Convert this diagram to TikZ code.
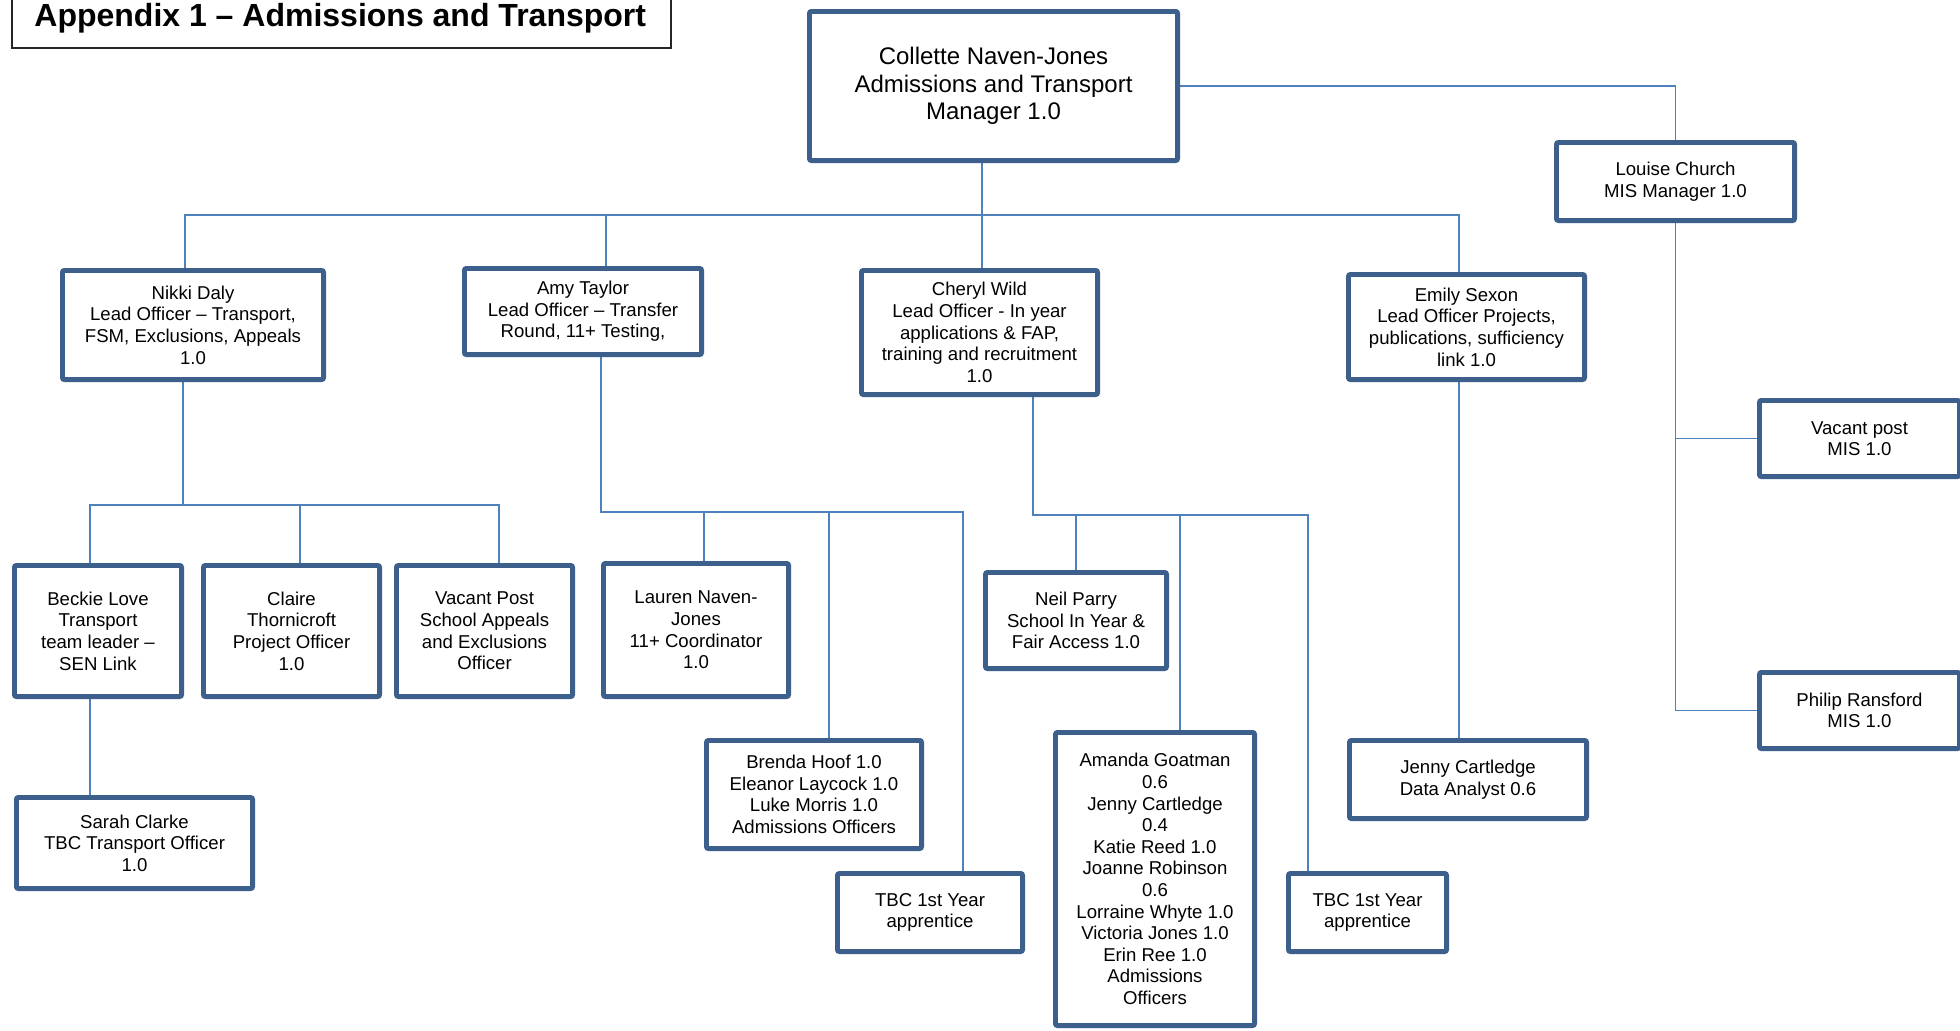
\documentclass[tikz,border=0pt]{standalone}
\usepackage{fontspec}
\setmainfont{Liberation Sans}
\usetikzlibrary{backgrounds}
\definecolor{boxblue}{RGB}{60,95,140}
\definecolor{linkblue}{RGB}{79,129,189}
\tikzset{
  orgbox/.style={draw=boxblue, line width=2.4pt, rounded corners=1pt, fill=white,
    align=center, inner sep=0pt, font=\fontsize{9.3}{10.8}\selectfont},
  bigbox/.style={orgbox, font=\fontsize{12}{13.8}\selectfont},
  conn/.style={draw=linkblue, line width=0.8pt},
  titlebox/.style={draw=black!85, line width=0.8pt}
}
\newcommand\orgnode[7]{\node[#7, minimum width={(#4-#2)*0.5pt-2.4pt}, minimum height={(#5-#3)*0.5pt-2.4pt}] (#1) at ({(#2+#4)/2},{(#3+#5)/2}) {#6};}
\begin{document}
\begin{tikzpicture}[x=0.5pt,y=-0.5pt]
\useasboundingbox (0,0) rectangle (1960,1030);
% title
\draw[titlebox] (12,-6) rectangle (671,48);
\node[anchor=west, inner sep=0pt, font=\fontsize{16}{18}\selectfont\bfseries] (title) at (34,18) {Appendix 1 – Admissions and Transport};
% boxes
\orgnode{main}{807}{9}{1180}{163}{Collette Naven-Jones\\Admissions and Transport\\Manager 1.0}{bigbox}
\orgnode{louise}{1554}{140}{1797}{223}{Louise Church\\MIS Manager 1.0}{orgbox}
\orgnode{nikki}{60}{268}{326}{382}{Nikki Daly\\Lead Officer – Transport,\\FSM, Exclusions, Appeals\\1.0}{orgbox}
\orgnode{amy}{462}{266}{704}{357}{Amy Taylor\\Lead Officer – Transfer\\Round, 11+ Testing,}{orgbox}
\orgnode{cheryl}{859}{268}{1100}{397}{Cheryl Wild\\Lead Officer - In year\\applications \& FAP,\\training and recruitment\\1.0}{orgbox}
\orgnode{emily}{1346}{272}{1587}{382}{Emily Sexon\\Lead Officer Projects,\\publications, sufficiency\\link 1.0}{orgbox}
\orgnode{mis}{1757}{398}{1962}{479}{Vacant post\\MIS 1.0}{orgbox}
\orgnode{philip}{1757}{670}{1962}{751}{Philip Ransford\\MIS 1.0}{orgbox}
\orgnode{beckie}{12}{563}{184}{699}{Beckie Love\\Transport\\team leader –\\SEN Link}{orgbox}
\orgnode{claire}{201}{563}{382}{699}{Claire\\Thornicroft\\Project Officer\\1.0}{orgbox}
\orgnode{vacant}{394}{563}{575}{699}{Vacant Post\\School Appeals\\and Exclusions\\Officer}{orgbox}
\orgnode{sarah}{14}{795}{255}{891}{Sarah Clarke\\TBC Transport Officer\\1.0}{orgbox}
\orgnode{lauren}{601}{561}{791}{699}{Lauren Naven-\\Jones\\11+ Coordinator\\1.0}{orgbox}
\orgnode{brenda}{704}{738}{924}{851}{Brenda Hoof 1.0\\Eleanor Laycock 1.0\\Luke Morris 1.0\\Admissions Officers}{orgbox}
\orgnode{tbca}{835}{871}{1025}{954}{TBC 1st Year\\apprentice}{orgbox}
\orgnode{neil}{983}{570}{1169}{671}{Neil Parry\\School In Year \&\\Fair Access 1.0}{orgbox}
\orgnode{amanda}{1053}{730}{1257}{1028}{Amanda Goatman\\0.6\\Jenny Cartledge\\0.4\\Katie Reed 1.0\\Joanne Robinson\\0.6\\Lorraine Whyte 1.0\\Victoria Jones 1.0\\Erin Ree 1.0\\Admissions\\Officers}{orgbox}
\orgnode{tbcb}{1286}{871}{1449}{954}{TBC 1st Year\\apprentice}{orgbox}
\orgnode{jenny}{1347}{738}{1589}{821}{Jenny Cartledge\\Data Analyst 0.6}{orgbox}
% junction coordinates
\coordinate (c2a) at (185,215);
\coordinate (c2b) at (606,215);
\coordinate (c2c) at (982,215);
\coordinate (c2d) at (1459,215);
\coordinate (c3n) at (183,505);
\coordinate (c3a) at (90,505);
\coordinate (c3b) at (300,505);
\coordinate (c3c) at (499,505);
\coordinate (c4a) at (601,512);
\coordinate (c4b) at (704,512);
\coordinate (c4c) at (829,512);
\coordinate (c4d) at (963,512);
\coordinate (c5a) at (1033,515);
\coordinate (c5b) at (1076,515);
\coordinate (c5c) at (1180,515);
\coordinate (c5d) at (1308,515);
\begin{scope}[on background layer]
\fill[white] (0,0) rectangle (1960,1030);
% manager to MIS manager
\draw[conn] (main.east) -| (louise.north);
% manager to lead officers
\draw[conn] (main.south -| c2c) -- (cheryl.north -| c2c);
\draw[conn] (nikki.north -| c2a) -- (c2a) -- (c2d) -- (emily.north -| c2d);
\draw[conn] (c2b) -- (amy.north -| c2b);
% MIS team
\draw[conn] (louise.south) -- (louise.south |- philip.west) -- (philip.west);
\draw[conn] (louise.south |- mis.west) -- (mis.west);
% Nikki's team
\draw[conn] (nikki.south -| c3n) -- (c3n);
\draw[conn] (beckie.north -| c3a) -- (c3a) -- (c3c) -- (vacant.north -| c3c);
\draw[conn] (c3b) -- (claire.north -| c3b);
\draw[conn] (beckie.south -| c3a) -- (sarah.north -| c3a);
% Amy's team
\draw[conn] (amy.south -| c4a) -- (c4a) -- (c4d) -- (tbca.north -| c4d);
\draw[conn] (c4b) -- (lauren.north -| c4b);
\draw[conn] (c4c) -- (brenda.north -| c4c);
% Cheryl's team
\draw[conn] (cheryl.south -| c5a) -- (c5a) -- (c5d) -- (tbcb.north -| c5d);
\draw[conn] (c5b) -- (neil.north -| c5b);
\draw[conn] (c5c) -- (amanda.north -| c5c);
% Emily's team
\draw[conn] (emily.south -| c2d) -- (jenny.north -| c2d);
\end{scope}
\end{tikzpicture}
\end{document}
